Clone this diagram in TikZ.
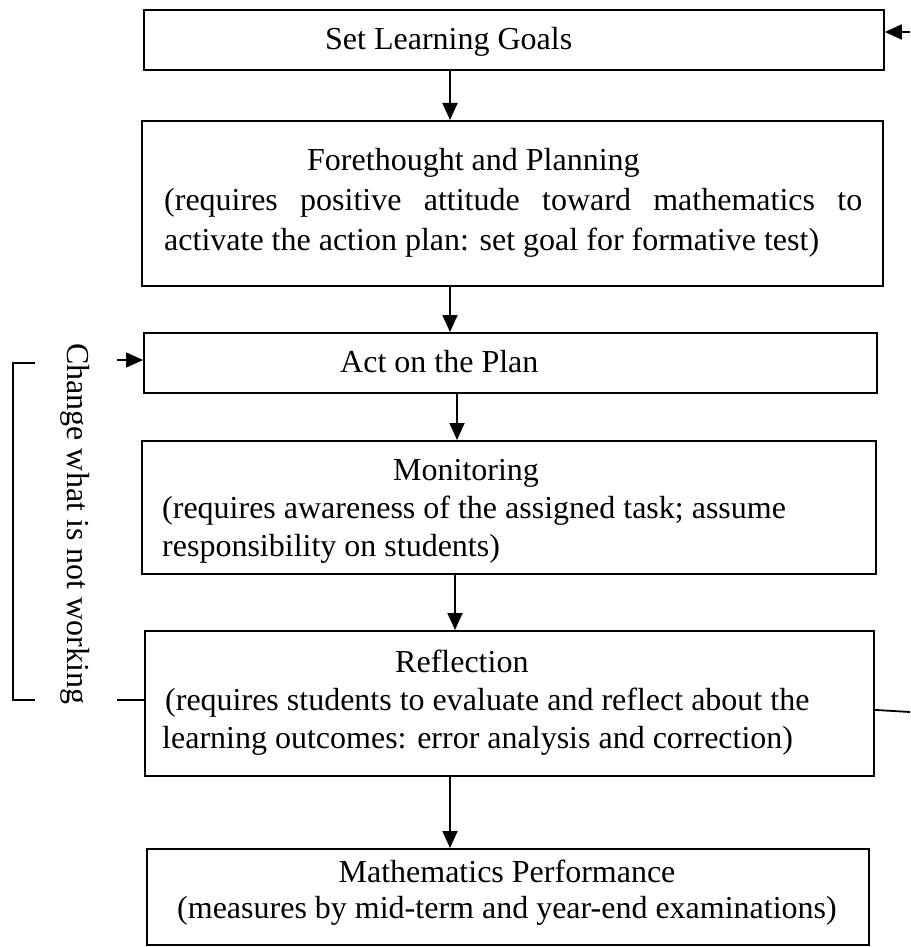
\documentclass[tikz,border=0pt]{standalone}
\usepackage{fontspec}
\setmainfont{Liberation Serif}
\usetikzlibrary{arrows.meta}
\begin{document}
\begin{tikzpicture}[x=1pt,y=-1pt,
  box/.style={draw, line width=1.8pt, inner sep=0pt, anchor=north west},
  txt/.style={inner sep=0pt, anchor=base west, font=\fontsize{32}{37}\selectfont},
  arr/.style={line width=1.8pt, -{Triangle[length=17pt,width=15pt]}},
  ln/.style={line width=1.8pt}]
\useasboundingbox (0,0) rectangle (910,947);
% boxes
\node[box, minimum width=740pt, minimum height=60pt] (set) at (143,9) {};
\node[box, minimum width=741pt, minimum height=165pt] (fore) at (141,120) {};
\node[box, minimum width=733pt, minimum height=60pt] (act) at (143,332) {};
\node[box, minimum width=734pt, minimum height=133pt] (mon) at (141,440) {};
\node[box, minimum width=729pt, minimum height=145pt] (refl) at (144,630) {};
\node[box, minimum width=722pt, minimum height=96pt] (perf) at (146,848) {};
% texts
\node[txt] (tset) at (325,50) {Set Learning Goals};
\node[txt] (tfore1) at (307,170) {Forethought and Planning};
\node[txt] (tfore2) at (164,210) {\makebox[698pt][s]{(requires positive attitude toward mathematics to}};
\node[txt] (tfore3) at (164,250) {activate the action plan: set goal for formative test)};
\node[txt] (tact) at (340,372) {Act on the Plan};
\node[txt] (tmon1) at (393,480) {Monitoring};
\node[txt] (tmon2) at (162,518) {(requires awareness of the assigned task; assume};
\node[txt] (tmon3) at (162,556) {responsibility on students)};
\node[txt] (tref1) at (395,672) {Reflection};
\node[txt] (tref2) at (165,710) {(requires students to evaluate and reflect about the};
\node[txt] (tref3) at (162,748) {learning outcomes: error analysis and correction)};
\node[txt, anchor=base] (tperf1) at (507,882) {Mathematics Performance};
\node[txt, anchor=base] (tperf2) at (507,918) {(measures by mid-term and year-end examinations)};
\node[txt, rotate=-90] (tchange) at (67,343) {Change what is not working};
% vertical arrows
\coordinate (c1) at (450,0);
\coordinate (c2) at (450,0);
\coordinate (c3) at (457,0);
\coordinate (c4) at (455,0);
\coordinate (c5) at (450,0);
\draw[arr] (set.south -| c1) -- (fore.north -| c1);
\draw[arr] (fore.south -| c2) -- (act.north -| c2);
\draw[arr] (act.south -| c3) -- (mon.north -| c3);
\draw[arr] (mon.south -| c4) -- (refl.north -| c4);
\draw[arr] (refl.south -| c5) -- (perf.north -| c5);
% side arrows and lines
\coordinate (rin) at (910,32);
\draw[arr] (rin) -- (rin -| set.east);
\coordinate (lin) at (117,360);
\draw[arr] (lin) -- (lin -| act.west);
\coordinate (lref) at (117,700);
\draw[ln] (lref) -- (lref -| refl.west);
\coordinate (rref) at (910,712);
\draw[ln] ([yshift=-6.5pt]refl.east) -- (rref);
% bracket
\coordinate (bt) at (35,363);
\coordinate (bb) at (35,700);
\draw[ln] (bt) -- ++(-22,0) |- (bb);
\end{tikzpicture}
\end{document}
